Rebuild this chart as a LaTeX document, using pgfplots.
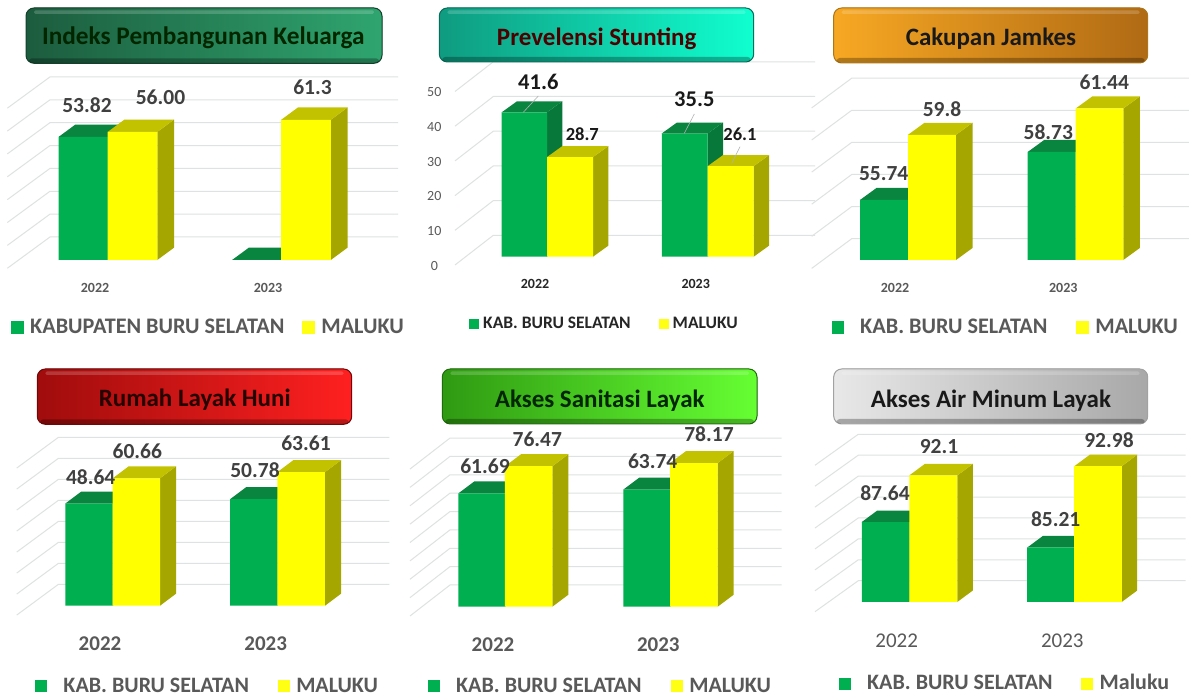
\documentclass[border=0pt]{standalone}
\usepackage{pgfplots}
\pgfplotsset{compat=1.18}
\usepackage{fontspec}
\setmainfont{Carlito}
\definecolor{cG}{HTML}{00B050}
\definecolor{cGt}{HTML}{0A8540}
\definecolor{cGs}{HTML}{08783A}
\definecolor{cY}{HTML}{FFFF00}
\definecolor{cYt}{HTML}{C2C200}
\definecolor{cYs}{HTML}{A6A600}
\definecolor{cLy}{HTML}{FFFF14}
\definecolor{cGrid}{HTML}{DFE2E2}
\definecolor{cT}{HTML}{404040}
\definecolor{cL}{HTML}{595959}
\newcommand\C[2]{(#1pt,{698pt-#2pt})}
\newcommand\fs[1]{\fontsize{#1}{#1}\selectfont}
\newcommand\Lab[5]{\node[inner sep=0pt,anchor=center,text=#4] at \C{#1}{#2} {\fs{#3}\bfseries #5};}
\newcommand\SetP[6]{%
  \def\Xz{#1}\def\Bs{#2}\def\Vz{#3}\def\Sc{#4}\def\dX{#5}\def\dY{#6}%
  \pgfmathsetmacro\Xe{#1+420}\pgfmathsetmacro\Vt{#3+220/#4}%
  \pgfmathsetmacro\Yb{698-#2}\pgfmathsetmacro\ddY{#6/#4}}
\newcommand\Leg[7]{% sq x, y, gap1, gap2, gap3, size, colour
  \pgfmathsetmacro\lx{(#1-\Xz)/420}\pgfmathsetmacro\ly{(\Bs-#2)/220}%
  \def\gA{#3pt}\def\gB{#4pt}\def\gC{#5pt}\def\lF{#6}\def\lC{#7}}
\pgfplotsset{
  sqg/.style={legend image code/.code={\fill[cG] (0pt,0pt) rectangle (\sqs pt,\sqs pt);}},
  sqy/.style={legend image code/.code={\fill[cLy] (0pt,0pt) rectangle (\sqs pt,\sqs pt);}},
  panel/.style={
    scale only axis, width=420pt, height=220pt, clip=false,
    at={(\Xz pt,\Yb pt)}, anchor=south west,
    xmin=\Xz, xmax=\Xe, ymin=\Vz, ymax=\Vt,
    axis line style={draw=none}, tick style={draw=none}, major tick length=0pt,
    ytick=\empty, /pgf/number format/assume math mode=true,
    legend columns=2,
    legend style={at={(\lx,\ly)}, anchor=west, draw=none, fill=none, inner sep=0pt,
      nodes={inner sep=0pt, anchor=base, text=\lC, font=\fs{\lF}\bfseries},
      /tikz/column 1/.style={column sep=\gA},
      /tikz/column 2/.style={column sep=\gB},
      /tikz/column 3/.style={column sep=\gC}},
  },
  xl/.style n args={3}{x tick label style={anchor=center, inner sep=0pt, yshift=-#1pt, text=#3, font=\fs{#2}\bfseries}},
  xlr/.style n args={3}{x tick label style={anchor=center, inner sep=0pt, yshift=-#1pt, text=#3, font=\fs{#2}}},
}
% grid: values, back start x, back end x, front x, px offset of back wall, px drop of side wall
\newcommand\Grid[6]{%
  \pgfplotsforeachungrouped \tv in {#1}{%
    \pgfmathsetmacro\yB{\tv+#5/\Sc}\pgfmathsetmacro\yF{\tv+(#5-#6)/\Sc}%
    \addplot[cGrid,line width=1pt,forget plot] coordinates {(#4,\yF)(#2,\yB)(#3,\yB)};}}
% side and top of one bar: centre, width, value, top colour, side colour
\newcommand\Faces[5]{%
  \pgfmathsetmacro\xa{#1-#2/2}\pgfmathsetmacro\xb{#1+#2/2}%
  \pgfmathsetmacro\xc{\xb+\dX}\pgfmathsetmacro\xd{\xa+\dX}%
  \pgfmathsetmacro\yt{#3+\ddY}\pgfmathsetmacro\yz{\Vz+\ddY}%
  \addplot[fill=#5,draw=none,forget plot] coordinates {(\xb,\Vz)(\xc,\yz)(\xc,\yt)(\xb,#3)} --cycle;
  \addplot[fill=#4,draw=none,forget plot] coordinates {(\xa,#3)(\xb,#3)(\xc,\yt)(\xd,\yt)} --cycle;}
\newcommand\TBox[6]{%
  \definecolor{bL}{HTML}{#5}\definecolor{bR}{HTML}{#6}%
  \fill[rounded corners=8pt,left color=bL,right color=bR] \C{#1}{#3} rectangle \C{#2}{#4};
  \draw[rounded corners=8pt,draw=bL!70!black,line width=1pt] \C{#1}{#3} rectangle \C{#2}{#4};
  \fill[white,opacity=.18,rounded corners=1.5pt] ({#1pt+8pt},{698pt-#3pt-2.5pt}) rectangle ({#2pt-8pt},{698pt-#3pt-6pt});
  \fill[black,opacity=.28,rounded corners=3pt] ({#1pt+3pt},{698pt-#4pt+5pt}) rectangle ({#2pt-3pt},{698pt-#4pt+.5pt});}
\begin{document}
\begin{tikzpicture}
\fill[white,use as bounding box] (0pt,0pt) rectangle (1189pt,698pt);
% ---------- Panel 1
\SetP{0}{260}{0}{2.287}{16.7}{12.3}\def\sqs{13}
\Leg{11}{327}{6}{18}{6}{22.2}{cL}
\begin{axis}[panel,xtick={95,268},xticklabels={2022,2023},xl={28}{14}{cL}]
\Grid{0,10,20,30,40,50,60,70}{50}{398}{7.3}{23}{31.3}
\Faces{83.2}{49.2}{53.82}{cGt}{cGs}
\Faces{256.7}{49.2}{0}{cGt}{cGs}
\addplot[ybar,bar width=49.2pt,bar shift=0pt,fill=cG,draw=none,sqg] coordinates {(83.2,53.82)(256.7,0)};
\addlegendentry{KABUPATEN BURU SELATAN}
\Faces{132.5}{49.6}{56.00}{cYt}{cYs}
\Faces{306}{49.6}{61.3}{cYt}{cYs}
\addplot[ybar,bar width=49.6pt,bar shift=0pt,fill=cY,draw=none,sqy] coordinates {(132.5,56.00)(306,61.3)};
\addlegendentry{MALUKU}
\end{axis}
\TBox{26}{382}{8}{63.3}{1C5C3E}{2FA56F}
% ---------- Panel 2
\SetP{434.3}{256.7}{0}{3.47}{15.3}{11}\def\sqs{10}
\Leg{469}{324}{4}{28}{4}{17.5}{black!85}
\begin{axis}[panel,xtick={535,695.7},xticklabels={2022,2023},xl={27.3}{14}{black!85},
  ytick={0,10,20,30,40,50},y tick label style={anchor=center,inner sep=0pt,yshift=-9pt,text=cL,font=\fs{14}}]
\Grid{0,10,20,30,40,50}{493.3}{815}{455}{21.4}{29.7}
\Faces{524.3}{45.3}{41.6}{cGt}{cGs}
\Faces{684.7}{46}{35.5}{cGt}{cGs}
\addplot[ybar,bar width=45.6pt,bar shift=0pt,fill=cG,draw=none,sqg] coordinates {(524.3,41.6)(684.7,35.5)};
\addlegendentry{KAB. BURU SELATAN}
\Faces{570}{46}{28.7}{cYt}{cYs}
\Faces{730.7}{46}{26.1}{cYt}{cYs}
\addplot[ybar,bar width=46pt,bar shift=0pt,fill=cY,draw=none,sqy] coordinates {(570,28.7)(730.7,26.1)};
\addlegendentry{MALUKU}
\end{axis}
\TBox{439.3}{753.7}{8}{62}{0F9B80}{10FFD0}
\draw[gray!60,line width=.6pt] \C{523.3}{112.3} -- \C{538.3}{96};
\draw[gray!60,line width=.6pt] \C{684.3}{133.3} -- \C{694.3}{114};
\draw[gray!60,line width=.6pt] \C{731.7}{163.3} -- \C{740}{146.7};
% ---------- Panel 3
\SetP{790}{260}{52}{16.05}{16.5}{12}\def\sqs{12.3}
\Leg{831.7}{327}{16}{29}{6.7}{22.2}{cL}
\begin{axis}[panel,xtick={895,1063.3},xticklabels={2022,2023},xl={28}{14}{cL}]
\Grid{52,54,56,58,60,62}{851.7}{1189}{811.7}{21.3}{29.7}
\Faces{884}{48}{55.74}{cGt}{cGs}
\Faces{1051.7}{48}{58.73}{cGt}{cGs}
\addplot[ybar,bar width=48pt,bar shift=0pt,fill=cG,draw=none,sqg] coordinates {(884,55.74)(1051.7,58.73)};
\addlegendentry{KAB. BURU SELATAN}
\Faces{932}{48}{59.8}{cYt}{cYs}
\Faces{1099.5}{47.6}{61.44}{cYt}{cYs}
\addplot[ybar,bar width=47.8pt,bar shift=0pt,fill=cY,draw=none,sqy] coordinates {(932,59.8)(1099.5,61.44)};
\addlegendentry{MALUKU}
\end{axis}
\TBox{833.7}{1147.7}{8}{63}{F7A823}{B06A14}
% ---------- Panel 4
\SetP{0}{605.7}{0}{2.1}{16}{12}\def\sqs{12.3}
\Leg{35}{686}{16}{29}{6}{22}{cL}
\begin{axis}[panel,xtick={100,265.7},xticklabels={2022,2023},xl={38.3}{21}{cL}]
\Grid{0,10,20,30,40,50,60,70}{58.3}{389.3}{16.7}{21.3}{30.7}
\Faces{89}{47.4}{48.64}{cGt}{cGs}
\Faces{253.8}{47}{50.78}{cGt}{cGs}
\addplot[ybar,bar width=47.2pt,bar shift=0pt,fill=cG,draw=none,sqg] coordinates {(89,48.64)(253.8,50.78)};
\addlegendentry{KAB. BURU SELATAN}
\Faces{136.4}{47.3}{60.66}{cYt}{cYs}
\Faces{301.2}{47.7}{63.61}{cYt}{cYs}
\addplot[ybar,bar width=47.5pt,bar shift=0pt,fill=cY,draw=none,sqy] coordinates {(136.4,60.66)(301.2,63.61)};
\addlegendentry{MALUKU}
\end{axis}
\TBox{37.3}{351.7}{369}{424.3}{A00C0C}{FF2020}
% ---------- Panel 5
\SetP{405}{606.7}{0}{1.837}{16}{12}\def\sqs{12.3}
\Leg{427.7}{686}{16}{29}{6.3}{22}{cL}
\begin{axis}[panel,xtick={493,658.3},xticklabels={2022,2023},xl={38.3}{21}{cL}]
\Grid{0,10,20,30,40,50,60,70,80}{450}{781.7}{410}{21.7}{31}
\Faces{481.7}{46.7}{61.69}{cGt}{cGs}
\Faces{646.7}{46.7}{63.74}{cGt}{cGs}
\addplot[ybar,bar width=46.7pt,bar shift=0pt,fill=cG,draw=none,sqg] coordinates {(481.7,61.69)(646.7,63.74)};
\addlegendentry{KAB. BURU SELATAN}
\Faces{528.7}{47.3}{76.47}{cYt}{cYs}
\Faces{693.8}{47.7}{78.17}{cYt}{cYs}
\addplot[ybar,bar width=47.5pt,bar shift=0pt,fill=cY,draw=none,sqy] coordinates {(528.7,76.47)(693.8,78.17)};
\addlegendentry{MALUKU}
\end{axis}
\TBox{442.3}{757}{369}{424}{2F9A12}{66FF33}
% ---------- Panel 6
\SetP{795}{602}{80}{10.46}{15.5}{11.5}\def\sqs{12}
\Leg{839}{683}{16}{28}{7}{22}{cL}
\begin{axis}[panel,xtick={896.7,1062.3},xticklabels={2022,2023},xlr={38.7}{21}{cL}]
\Grid{80,82,84,86,88,90,92,94}{858.3}{1185.7}{815}{21.3}{31}
\Faces{885.5}{47.6}{87.64}{cGt}{cGs}
\Faces{1050.8}{47}{85.21}{cGt}{cGs}
\addplot[ybar,bar width=47.3pt,bar shift=0pt,fill=cG,draw=none,sqg] coordinates {(885.5,87.64)(1050.8,85.21)};
\addlegendentry{KAB. BURU SELATAN}
\Faces{933.3}{48}{92.1}{cYt}{cYs}
\Faces{1098}{47.4}{92.98}{cYt}{cYs}
\addplot[ybar,bar width=47.7pt,bar shift=0pt,fill=cY,draw=none,sqy] coordinates {(933.3,92.1)(1098,92.98)};
\addlegendentry{Maluku}
\end{axis}
\TBox{833.7}{1147.7}{369}{424}{E8E8E8}{A8A8A8}
% ---------- titles
\Lab{203.3}{37.8}{25.3}{black!85!green}{Indeks Pembangunan Keluarga}
\Lab{596.7}{38.5}{25}{black!70!red}{Prevelensi Stunting}
\Lab{991}{38.5}{25}{black!90}{Cakupan Jamkes}
\Lab{194.7}{399.8}{25}{black!85!red}{Rumah Layak Huni}
\Lab{599.7}{400.5}{25}{black!85!green}{Akses Sanitasi Layak}
\Lab{991}{400.5}{25}{black!90}{Akses Air Minum Layak}
% ---------- value labels
\Lab{87}{105}{21.5}{cT}{53.82}\Lab{160.5}{97}{21.5}{cT}{56.00}\Lab{312.5}{87}{21.5}{cT}{61.3}
\Lab{538.3}{81.7}{22.5}{black!90}{41.6}\Lab{582.3}{134}{18.5}{black!90}{28.7}
\Lab{694.3}{99.3}{22.5}{black!90}{35.5}\Lab{740}{134}{18.5}{black!90}{26.1}
\Lab{883.7}{174}{21.5}{cT}{55.74}\Lab{942}{108.7}{21.5}{cT}{59.8}
\Lab{1048.3}{132}{21.5}{cT}{58.73}\Lab{1104.3}{82.3}{21.5}{cT}{61.44}
\Lab{90.7}{476.7}{21.5}{cT}{48.64}\Lab{137.3}{451.7}{21.5}{cT}{60.66}
\Lab{255}{470}{21.5}{cT}{50.78}\Lab{306}{443}{21.5}{cT}{63.61}
\Lab{485}{466.7}{21.5}{cT}{61.69}\Lab{537.3}{439}{21.5}{cT}{76.47}
\Lab{652.7}{461}{21.5}{cT}{63.74}\Lab{709}{434}{21.5}{cT}{78.17}
\Lab{885}{493.3}{21.5}{cT}{87.64}\Lab{939}{446.7}{21.5}{cT}{92.1}
\Lab{1055.7}{519}{21.5}{cT}{85.21}\Lab{1109}{440}{21.5}{cT}{92.98}
\end{tikzpicture}
\end{document}
